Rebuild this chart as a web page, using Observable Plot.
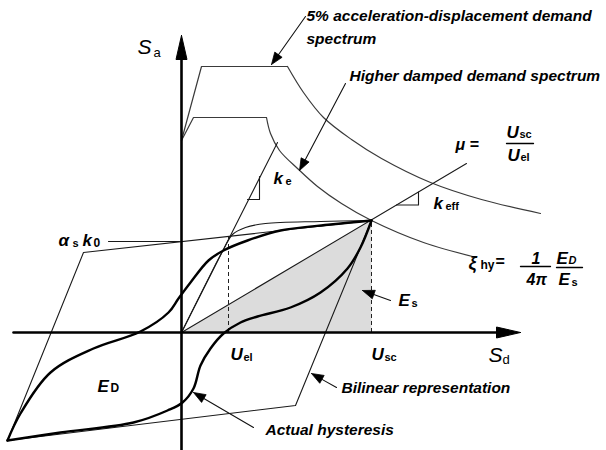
<!DOCTYPE html>
<html><head><meta charset="utf-8">
<script src="https://cdn.jsdelivr.net/npm/d3@7"></script>
<script src="https://cdn.jsdelivr.net/npm/@observablehq/plot@0.6"></script>
<style>body{margin:0;background:#fff}#chart{width:606px;height:450px}</style>
</head><body><div id="chart"></div>
<script>
// ---- schematic data (Sd, Sa) in arbitrary units, origin at axis crossing ----
const spectrum5Plateau = [[0,192],[20,266],[106,266]];
const spectrum5Decay = [[106,266],[122,240],[142,215],[170,193],[200,174],[249,150],[300,133],[359,119]];
const spectrumHDPlateau = [[0,192],[12,215],[85,215]];
const spectrumHDDecay = [[85,215],[89,199],[98,182],[116,164],[136,146],[160,129],[190,112],[242,90],[295,75]];
const hystUpper = [[-174,-108],[-161,-81],[-131,-40],[-88,-16],[-41,1],[-13,20],[-3,34],[9,50],[27,72],[42,82],[66,92],[99,102],[149,108],[190,112]];
const hystLower = [[-174,-108],[-121,-100],[-48,-90],[-14,-78],[1,-70],[12,-56],[19,-33],[29,-16],[42,-1],[59,10],[76,16],[109,25],[139,40],[166,64],[179,85],[190,112]];
const backbone = [[0,0],[34,68],[42,83],[51,98],[64,105],[84,109],[139,111],[190,112]];
const bilinear = [[190,112],[-98,80],[-174,-108],[114,-73],[190,112]];
const keLine = [[0,0],[96,190]];
const keffLine = [[0,0],[285,169]];
const keTri = [[66,133],[78,133],[78,156]];
const keffTri = [[215,127.5],[237,127.5],[237,140.5]];
const energyEs = [[0,0],[190,112],[190,0]];
const Uel = 47, Usc = 190, Fel = 95, Fsc = 112;
const leader = [[-73,91],[-2,91]];
const xAxisExt = [-168, 339], yAxisExt = [-118, 297];
const callouts = [
  {from:[124,316], tip:[90,268]},
  {from:[164,249], tip:[118,162]},
  {from:[209,32], tip:[181,42]},
  {from:[155,-55], tip:[130,-41]},
  {from:[72,-95], tip:[12,-60]}
];
// ---- text (bold italic) ----
const textBI = [
  {t:"5% acceleration-displacement demand", x:125, y:312, s:15.5},
  {t:"spectrum", x:125, y:289, s:15.5},
  {t:"Higher damped demand spectrum", x:168, y:252, s:15.5},
  {t:"Bilinear representation", x:160, y:-60, s:15.5},
  {t:"Actual hysteresis", x:84, y:-102, s:15.5},
  {t:"μ =", x:274, y:183, s:16},
  {t:"U", x:325, y:195, s:17},
  {t:"U", x:326, y:172, s:17},
  {t:"k", x:252, y:124, s:17},
  {t:"k", x:92, y:149, s:17},
  {t:"α", x:-123, y:87, s:17},
  {t:"k", x:-99, y:87, s:17},
  {t:"ξ", x:287, y:64, s:18},
  {t:"1", x:350, y:69, s:16},
  {t:"4π", x:345, y:48, s:16},
  {t:"E", x:375, y:69, s:17},
  {t:"D", x:387, y:69, s:11},
  {t:"E", x:377, y:48, s:17},
  {t:"E", x:217, y:27, s:17},
  {t:"E", x:-84, y:-59, s:17},
  {t:"U", x:49, y:-27, s:17},
  {t:"U", x:190, y:-27, s:17}
];
const textB = [
  {t:"sc", x:338, y:195, s:11},
  {t:"el", x:339, y:172, s:11},
  {t:"eff", x:264, y:123, s:11},
  {t:"e", x:104, y:148, s:11},
  {t:"s", x:-109, y:86, s:11},
  {t:"0", x:-88, y:86, s:12},
  {t:"hy", x:299, y:64, s:12},
  {t:"=", x:314, y:66, s:16},
  {t:"s", x:390, y:47, s:11},
  {t:"s", x:230, y:26, s:11},
  {t:"D", x:-71, y:-59, s:12},
  {t:"el", x:62, y:-28, s:11},
  {t:"sc", x:203, y:-28, s:11}
];
const textI = [
  {t:"S", x:-44, y:279, s:21},
  {t:"S", x:307, y:-29, s:21}
];
const textR = [
  {t:"a", x:-28, y:276, s:13},
  {t:"d", x:321, y:-31, s:13}
];
const fracBars = [
  [[325,189],[352,189]],
  [[339,66],[369,66]],
  [[375,65],[401,65]]
];

function head(from, tip, len, hw){
  const dx=tip[0]-from[0], dy=tip[1]-from[1], L=Math.hypot(dx,dy), ux=dx/L, uy=dy/L;
  const bx=tip[0]-ux*len, by=tip[1]-uy*len;
  return {base:[bx,by], poly:[tip,[bx-uy*hw,by+ux*hw],[bx+uy*hw,by-ux*hw],tip]};
}
const X = d=>d[0], Y = d=>d[1];
const font = "Liberation Sans, Arial, Helvetica, sans-serif";
const marks = [];
marks.push(Plot.line(energyEs, {x:X, y:Y, fill:"#dcdcdc", stroke:"none"}));
const specStyle = {x:X, y:Y, stroke:"#3a3a3a", strokeWidth:1.2};
marks.push(Plot.line(spectrum5Plateau, specStyle));
marks.push(Plot.line(spectrum5Decay, {...specStyle, curve:"catmull-rom"}));
marks.push(Plot.line(spectrumHDPlateau, specStyle));
marks.push(Plot.line(spectrumHDDecay, {...specStyle, curve:"catmull-rom"}));
const thin = {x:X, y:Y, stroke:"#1a1a1a", strokeWidth:1.1};
marks.push(Plot.line(keLine, thin));
marks.push(Plot.line(keffLine, thin));
marks.push(Plot.line(keTri, thin));
marks.push(Plot.line(keffTri, thin));
marks.push(Plot.line(bilinear, thin));
marks.push(Plot.line(leader, thin));
marks.push(Plot.line(backbone, {...thin, curve:"catmull-rom"}));
marks.push(Plot.ruleX([Uel], {y1:0, y2:Fel, stroke:"#222", strokeWidth:1, strokeDasharray:"4,3"}));
marks.push(Plot.ruleX([Usc], {y1:0, y2:Fsc, stroke:"#222", strokeWidth:1, strokeDasharray:"4,3"}));
marks.push(Plot.line(hystUpper, {x:X, y:Y, stroke:"#000", strokeWidth:2.4, curve:"catmull-rom"}));
marks.push(Plot.line(hystLower, {x:X, y:Y, stroke:"#000", strokeWidth:2.4, curve:"catmull-rom"}));
const xh = head([xAxisExt[0],0],[xAxisExt[1],0],24,5.5);
const yh = head([0,yAxisExt[0]],[0,yAxisExt[1]],24,5.5);
marks.push(Plot.line([[xAxisExt[0],0], xh.base], {x:X, y:Y, stroke:"#000", strokeWidth:2.6}));
marks.push(Plot.line([[0,yAxisExt[0]], yh.base], {x:X, y:Y, stroke:"#000", strokeWidth:2.6}));
marks.push(Plot.line(xh.poly, {x:X, y:Y, fill:"#000", stroke:"#000", strokeWidth:1}));
marks.push(Plot.line(yh.poly, {x:X, y:Y, fill:"#000", stroke:"#000", strokeWidth:1}));
for (const c of callouts){
  const h = head(c.from, c.tip, 12, 4.5);
  marks.push(Plot.line([c.from, h.base], {x:X, y:Y, stroke:"#111", strokeWidth:1.1}));
  marks.push(Plot.line(h.poly, {x:X, y:Y, fill:"#000", stroke:"#000", strokeWidth:0.8}));
}
for (const b of fracBars) marks.push(Plot.line(b, {x:X, y:Y, stroke:"#000", strokeWidth:1.3}));
const tOpts = {x:"x", y:"y", text:"t", fontSize:d=>d.s, textAnchor:"start", lineAnchor:"bottom", fill:"#000", fontFamily:font};
marks.push(Plot.text(textBI, {...tOpts, fontWeight:"bold", fontStyle:"italic"}));
marks.push(Plot.text(textB, {...tOpts, fontWeight:"bold"}));
marks.push(Plot.text(textI, {...tOpts, fontStyle:"italic"}));
marks.push(Plot.text(textR, {...tOpts}));

const chart = Plot.plot({
  width:606, height:450, margin:0,
  x:{domain:[-181,425], axis:null},
  y:{domain:[-118,332], axis:null},
  style:{background:"#fff"},
  marks
});
document.getElementById("chart").appendChild(chart);
</script>
</body></html>
